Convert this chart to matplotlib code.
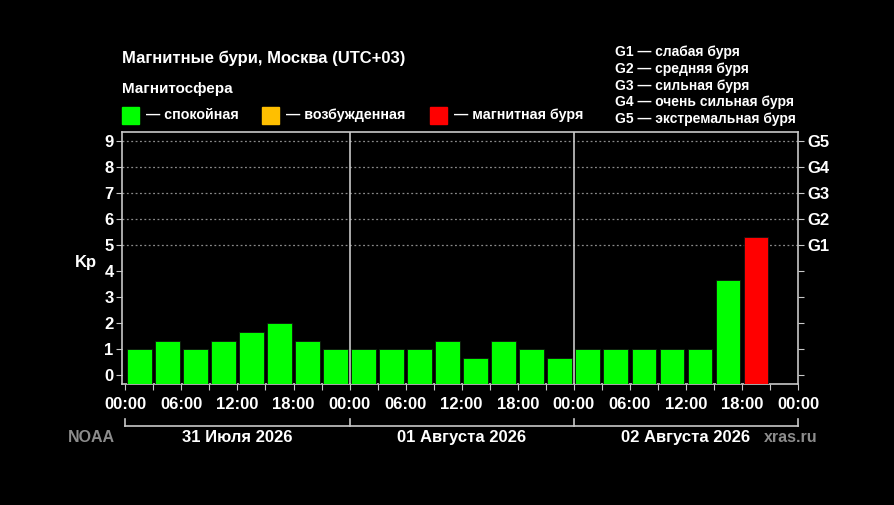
import matplotlib
matplotlib.use('Agg')
import matplotlib.pyplot as plt
from matplotlib.patches import Rectangle

plt.rcParams['font.family'] = ['Liberation Sans', 'DejaVu Sans']
plt.rcParams['font.weight'] = 'bold'

# Kp по 3-часовым интервалам (последний интервал пустой)
kp_values = [1, 1.33, 1, 1.33, 1.67, 2, 1.33, 1,
             1, 1, 1, 1.33, 0.67, 1.33, 1, 0.67,
             1, 1, 1, 1, 1, 3.67, 5.33]
day_labels = ['31 Июля 2026', '01 Августа 2026', '02 Августа 2026']
hour_labels = ['00:00', '06:00', '12:00', '18:00'] * 3 + ['00:00']
g_labels = ['G1', 'G2', 'G3', 'G4', 'G5']
g_legend = ['G1 — слабая буря', 'G2 — средняя буря', 'G3 — сильная буря',
            'G4 — очень сильная буря', 'G5 — экстремальная буря']

GREEN = '#00ff00'
ORANGE = '#ffbf00'
RED = '#ff0000'
FRAME = '#c8c8c8'


def kp_color(v):
    if v >= 5:
        return RED
    if v >= 4:
        return ORANGE
    return GREEN


W, H = 895, 505
fig = plt.figure(figsize=(W / 100, H / 100), dpi=100, facecolor='black')
ax = fig.add_axes([122 / W, (H - 384) / H, (798 - 122) / W, (384 - 132) / H])
ax.set_facecolor('black')

ymin = -0.33
ax.set_xlim(-0.12, 24.0)
ax.set_ylim(ymin, 9.35)

for i, v in enumerate(kp_values):
    ax.bar(i + 0.06, v - ymin, bottom=ymin, width=0.88, align='edge',
           color=kp_color(v), edgecolor='#101010', linewidth=0.6, zorder=3)

# пунктирная сетка на уровнях G
for y in range(5, 10):
    ax.axhline(y, color='#8a8a8a', linestyle=(0, (1.5, 2)), linewidth=0.9, zorder=1)

# разделители суток
for d in (8, 16):
    ax.axvline(d, color=FRAME, linewidth=1.2, zorder=4)

for s in ax.spines.values():
    s.set_color(FRAME)
    s.set_linewidth(1.2)

ax.set_yticks(range(0, 10))
ax.tick_params(axis='y', colors=FRAME, labelcolor='white', labelsize=12, length=4, pad=2)
ax.set_xticks(range(0, 25))
ax.set_xticklabels([])
ax.tick_params(axis='x', colors=FRAME, length=4)
for lbl in ax.get_yticklabels():
    lbl.set_fontweight('bold')

ax2 = ax.twinx()
ax2.set_ylim(ax.get_ylim())
ax2.set_yticks(range(0, 10))
ax2.set_yticklabels([''] * 5 + g_labels)
ax2.tick_params(axis='y', colors=FRAME, labelcolor='white', labelsize=12, length=4, pad=3)
for lbl in ax2.get_yticklabels():
    lbl.set_fontweight('bold')
for s in ax2.spines.values():
    s.set_visible(False)

# подписи часов под осью
trans = ax.get_xaxis_transform()
for k, lbl in enumerate(hour_labels):
    ax.text(k * 2, -0.08, lbl, transform=trans, ha='center', va='center',
            color='white', fontsize=12, fontweight='bold')

# скобки суток
yb_top, yb_bot = -0.14, -0.168
ax.plot([0, 24], [yb_bot, yb_bot], transform=trans, color=FRAME, lw=1.2, clip_on=False)
for d in (0, 8, 16, 24):
    ax.plot([d, d], [yb_top, yb_bot], transform=trans, color=FRAME, lw=1.2, clip_on=False)
for k, lbl in enumerate(day_labels):
    ax.text(k * 8 + 4, -0.212, lbl, transform=trans, ha='center', va='center',
            color='white', fontsize=12, fontweight='bold')

fig.text(68 / W, 1 - 437 / H, 'NOAA', color='#8c8c8c', fontsize=11.5,
         fontweight='bold', va='center', ha='left')
fig.text(818 / W, 1 - 437 / H, 'xras.ru', color='#8c8c8c', fontsize=11.5,
         fontweight='bold', va='center', ha='right')

fig.text(86 / W, 1 - 262 / H, 'Kp', color='white', fontsize=12,
         fontweight='bold', va='center', ha='center')

# заголовок и легенда
fig.text(122 / W, 1 - 58 / H, 'Магнитные бури, Москва (UTC+03)', color='white',
         fontsize=12, fontweight='bold', va='center', ha='left')
fig.text(122 / W, 1 - 89 / H, 'Магнитосфера', color='white',
         fontsize=11, fontweight='bold', va='center', ha='left')

legend_items = [(122, GREEN, '— спокойная'), (262, ORANGE, '— возбужденная'),
                (430, RED, '— магнитная буря')]
for x0, col, txt in legend_items:
    fig.patches.append(Rectangle((x0 / W, 1 - 124 / H), 17 / W, 17 / H,
                                 transform=fig.transFigure, color=col))
    fig.text((x0 + 24) / W, 1 - 115 / H, txt, color='white', fontsize=10.3,
             fontweight='bold', va='center', ha='left')

for k, txt in enumerate(g_legend):
    fig.text(615 / W, 1 - (52 + k * 16.8) / H, txt, color='white', fontsize=10,
             fontweight='bold', va='center', ha='left')

fig.savefig('out.png', dpi=100, facecolor='black')
